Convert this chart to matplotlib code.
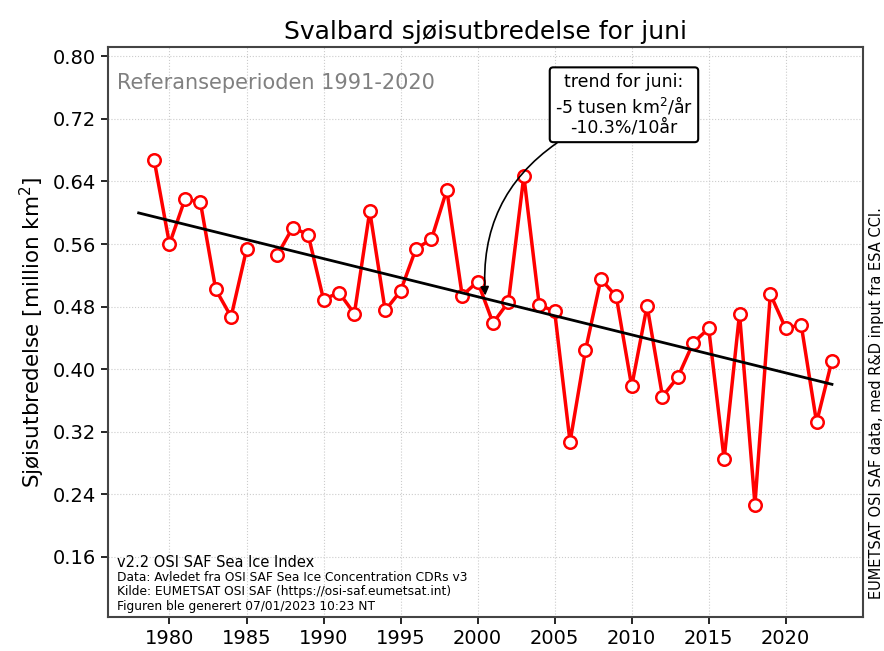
import numpy as np
import matplotlib
matplotlib.use("Agg")
from matplotlib import pyplot as plt

# juni-verdier, million km2 (1986 mangler)
years = list(range(1979, 2024))
extent = [0.668, 0.560, 0.617, 0.614, 0.502, 0.467, 0.553, np.nan, 0.546, 0.581,
          0.572, 0.489, 0.498, 0.471, 0.602, 0.475, 0.500, 0.554, 0.566, 0.629,
          0.494, 0.512, 0.459, 0.486, 0.647, 0.482, 0.474, 0.307, 0.424, 0.515,
          0.493, 0.378, 0.481, 0.365, 0.390, 0.434, 0.452, 0.285, 0.471, 0.227,
          0.496, 0.452, 0.457, 0.332, 0.411]
trend_years = [1978, 2023]
yticks = [0.16, 0.24, 0.32, 0.40, 0.48, 0.56, 0.64, 0.72, 0.80]
xticks = [1980, 1985, 1990, 1995, 2000, 2005, 2010, 2015, 2020]

x = np.array(years, dtype=float)
y = np.array(extent)
ok = ~np.isnan(y)
coef = np.polyfit(x[ok], y[ok], 1)
tx = np.array(trend_years, dtype=float)
ty = np.polyval(coef, tx)

fig = plt.figure(figsize=(8.84, 6.51), dpi=100)
ax = fig.add_axes([0.122, 0.052, 0.854, 0.876])

ax.plot(x, y, color='red', lw=2.5, marker='o', ms=9, mfc='white', mec='red', mew=1.8, zorder=3)
ax.plot(tx, ty, color='black', lw=2, zorder=4)

ax.set_xlim(1976, 2025)
ax.set_ylim(0.083, 0.812)
ax.set_xticks(xticks)
ax.set_yticks(yticks)
ax.set_yticklabels(['%.2f' % v for v in yticks])
ax.tick_params(labelsize=14, length=5, width=1.2)
ax.grid(True, ls=':', color='#cccccc', lw=0.8)
for s in ax.spines.values():
    s.set_color('#444444')
    s.set_linewidth(1.5)

ax.set_title('Svalbard sjøisutbredelse for juni', fontsize=18)
ax.set_ylabel('Sjøisutbredelse [million km$^2$]', fontsize=15.5)

ax.text(0.012, 0.955, 'Referanseperioden 1991-2020', transform=ax.transAxes,
        fontsize=15, color='gray', va='top')

ax.annotate('trend for juni:\n-5 tusen km$^2$/år\n-10.3%/10år',
            xy=(2000.5, np.polyval(coef, 2000.5) + 0.004), xytext=(2009.5, 0.738),
            ha='center', va='center', fontsize=12.5,
            bbox=dict(boxstyle='round,pad=0.3,rounding_size=0.2', fc='white', ec='black', lw=1.5),
            arrowprops=dict(arrowstyle='-|>', color='black', lw=1.2, connectionstyle='arc3,rad=0.3',
                            relpos=(0.08, 0), shrinkA=0, shrinkB=0), zorder=6)

ax.text(0.012, 0.095, 'v2.2 OSI SAF Sea Ice Index', transform=ax.transAxes,
        fontsize=10.5, va='center')
foot = ['Data: Avledet fra OSI SAF Sea Ice Concentration CDRs v3',
        'Kilde: EUMETSAT OSI SAF (https://osi-saf.eumetsat.int)',
        'Figuren ble generert 07/01/2023 10:23 NT']
for i, line in enumerate(foot):
    ax.text(0.012, 0.069 - i * 0.0248, line, transform=ax.transAxes, fontsize=8.8, va='center')

fig.text(0.992, 0.381, 'EUMETSAT OSI SAF data, med R&D input fra ESA CCI.', rotation=90,
         fontsize=10.5, ha='center', va='center')

fig.savefig('out.png', dpi=100)
